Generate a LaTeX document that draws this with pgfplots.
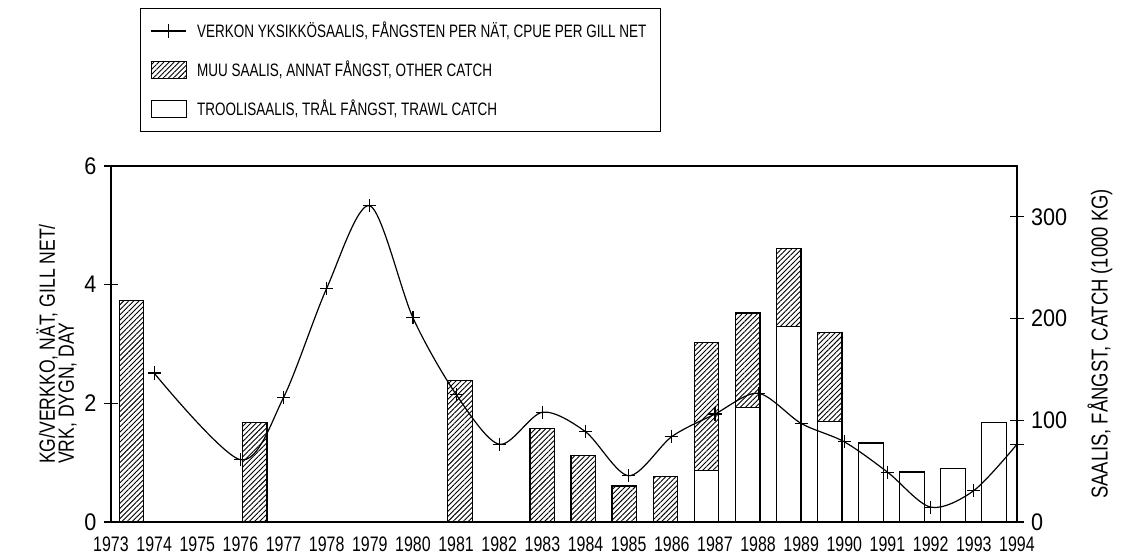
\documentclass[border=0pt]{standalone}
\usepackage{fontspec}
\setmainfont[FakeStretch=0.8]{Liberation Sans}
\newfontfamily\legfont[FakeStretch=0.75]{Liberation Sans}
\newfontfamily\yearfont[FakeStretch=0.76]{Liberation Sans}
\newfontfamily\tickfont[FakeStretch=0.9]{Liberation Sans}
\usepackage{pgfplots}
\pgfplotsset{compat=1.18}
\usetikzlibrary{patterns,patterns.meta}

\begin{document}
\begin{tikzpicture}
\useasboundingbox (-55.5pt,-17.5pt) rectangle (507pt,261pt);
% ---------- catch bars (right axis) ----------
\begin{axis}[
  scale only axis, width=453pt, height=178pt,
  xmin=1972.5, xmax=1994.56, ymin=0, ymax=350,
  axis x line=none, axis y line*=right,
  ytick={0,100,200,300},
  tick align=center, major tick length=7pt,
  every tick/.style={black, line width=0.6pt},
  axis line style={line width=0.7pt},
  /pgf/number format/assume math mode=true,
  yticklabel style={font=\tickfont\fontsize{12}{12}\selectfont},
  ylabel={SAALIS, FÅNGST, CATCH (1000 KG)},
  ylabel style={at={(rel axis cs:1.0916,0.5)}, anchor=center, font=\fontsize{11.5}{11.5}\selectfont},
  bar width=0.6,
]
% other catch (total height), hatched
\addplot[ybar, bar shift=0pt, draw=black, line width=0.6pt, pattern={Lines[angle=45, distance=1.8pt, line width=0.45pt]}]
  coordinates {(1973,218) (1976,98) (1981,139) (1983,92) (1984,65) (1985,35.4) (1986,44.5)
               (1987,176.7) (1988,205.5) (1989,269) (1990,186)};
% trawl catch, white
\addplot[ybar, bar shift=0pt, draw=black, fill=white, line width=0.6pt]
  coordinates {(1987,50.5) (1988,112.8) (1989,192) (1990,99) (1991,77.7) (1992,49.2) (1993,52.4) (1994,97.6)};
\end{axis}
% ---------- CPUE line (left axis) ----------
\begin{axis}[
  scale only axis, width=453pt, height=178pt,
  xmin=1973, xmax=1994, ymin=0, ymax=6,
  xtick={1973,...,1994}, ytick={0,2,4,6},
  ytick pos=left,
  x tick style={draw=none},
  tick align=center, major tick length=7.5pt,
  every tick/.style={black, line width=0.6pt},
  axis line style={line width=0.7pt},
  /pgf/number format/assume math mode=true,
  /pgf/number format/1000 sep={},
  xticklabel style={font=\yearfont\fontsize{10.5}{10.5}\selectfont},
  yticklabel style={font=\tickfont\fontsize{12}{12}\selectfont},
  ylabel={KG/VERKKO, NÄT, GILL NET/\\VRK, DYGN, DAY},
  ylabel style={at={(rel axis cs:-0.060,0.5)}, anchor=center, align=left, font=\fontsize{11}{9.5}\selectfont},
  legend cell align=left,
  legend style={at={(0.032,1.444)}, anchor=north west, draw=black, line width=0.6pt,
    font=\legfont\fontsize{9}{9}\selectfont, row sep=9pt, column sep=3pt, inner xsep=5pt, inner ysep=6pt,
    nodes={text height=6.5pt, text depth=0pt}},
]
\addplot[black, line width=0.6pt, smooth, mark=+, mark size=3.3pt]
  coordinates {(1974,2.51) (1976,1.05) (1977,2.10) (1978,3.94) (1979,5.33) (1980,3.44)
               (1981,2.15) (1982,1.31) (1983,1.85) (1984,1.52) (1985,0.78) (1986,1.44)
               (1987,1.82) (1988,2.17) (1989,1.66) (1990,1.35) (1991,0.84) (1992,0.25)
               (1993,0.53) (1994,1.31)};
\addlegendentry{VERKON YKSIKKÖSAALIS, FÅNGSTEN PER NÄT, CPUE PER GILL NET}
\addlegendimage{legend image code/.code={\draw[pattern={Lines[angle=45, distance=1.8pt, line width=0.45pt]}, line width=0.6pt] (0cm,-0.15cm) rectangle (0.62cm,0.15cm);}}
\addlegendentry{MUU SAALIS, ANNAT FÅNGST, OTHER CATCH}
\addlegendimage{legend image code/.code={\draw[fill=white, line width=0.6pt] (0cm,-0.15cm) rectangle (0.62cm,0.15cm);}}
\addlegendentry{TROOLISAALIS, TRÅL FÅNGST, TRAWL CATCH}
\end{axis}
\end{tikzpicture}
\end{document}
